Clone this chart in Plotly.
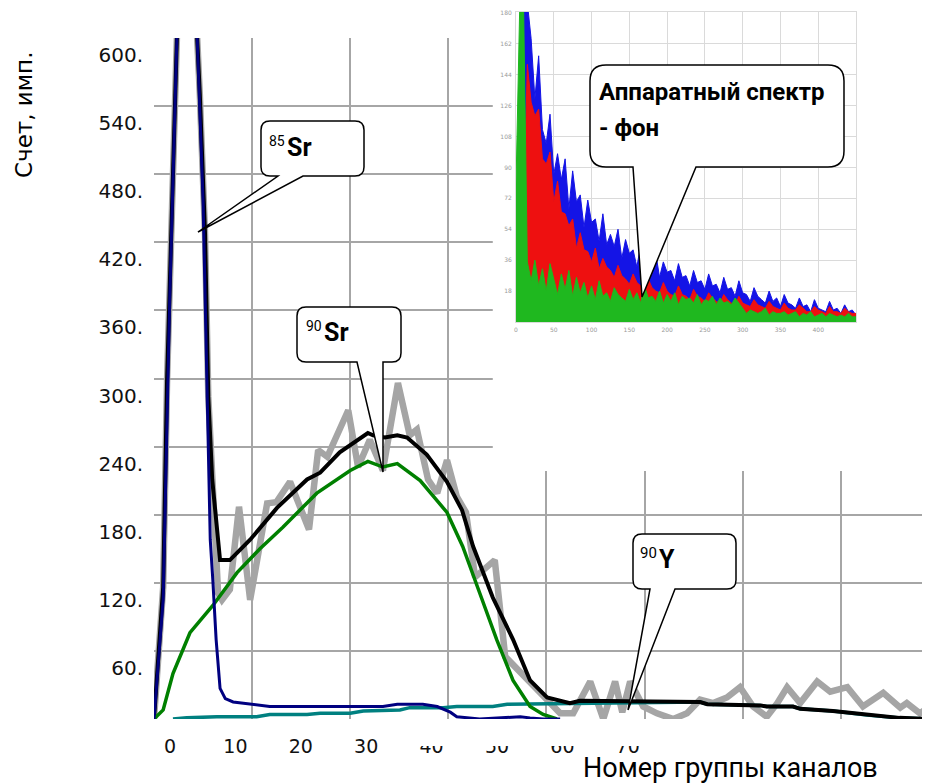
import plotly.graph_objects as go

# The page body adds an 8px offset, so the figure is 8px smaller than the window
W, H = 922, 776
OFF = 8

# ---------------- main chart data (channel group -> counts) ----------------
gray_x = [0, 1.4, 2.0, 3.5, 5.0, 6.6, 7.0, 7.8, 8.3, 8.9, 9.8, 10.4, 11.6, 13.0, 14.7,
          17.3, 18.7, 20.8, 23.7, 25.1, 26.5, 29.7, 31.2, 33.0, 35.0, 37.3, 39.1, 40.2,
          41.9, 43.3, 44.8, 46.3, 47.7, 49.1, 52.1, 53.7, 56.0, 58.0, 60.1, 62.1, 64.1,
          66.7, 68.7, 70.5, 71.6, 72.8, 74.8, 76.9, 79.4, 81.5, 83.5, 85.5, 87.6, 89.6,
          91.6, 93.7, 95.3, 96.8, 98.8, 101.4, 103.4, 106.0, 108.4, 111.5, 114.1, 115.1,
          117.1, 118.7]
gray_y = [0, 116, 299, 600, 700, 600, 551, 428, 284, 211, 111, 105, 114, 187, 105,
          190, 191, 209, 167, 237, 231, 272, 222, 246, 219, 296, 250, 255,
          211, 199, 228, 196, 182, 125, 140, 55, 41, 28, 17, 5, 5,
          33, 0, 33, 6, 33, 11, 5, 0, 5, 17, 14, 19, 28,
          11, 2, 14, 28, 14, 33, 24, 28, 11, 23, 10, 14,
          5, 11]

black_x = [0, 1.4, 2.0, 3.5, 5.0, 6.6, 7.0, 7.8, 8.3, 8.9, 10.1, 11.6, 14.7, 18.8, 23.4,
           25.4, 28.4, 32.7, 33.5, 35.3, 37.2, 38.7, 41.7, 44.8, 47.1, 48.8, 51.8, 54.9,
           57.5, 60.1, 63.6, 65.1, 83.5, 84.6, 92.7, 93.7, 97.7, 98.8, 103.8, 109.0,
           114.0, 118.7]
black_y = [0, 116, 299, 600, 700, 600, 551, 428, 284, 211, 140, 140, 158, 186, 211,
           217, 235, 252, 250, 248, 250, 248, 233, 209, 184, 152, 107, 70,
           34, 19, 14, 16, 15, 13, 12, 11, 11, 9, 7, 3.5,
           1, 0]

sr85_x = [0, 1.4, 2.4, 3.5, 5.0, 6.6, 7.5, 8.1, 8.6, 9.0, 9.5, 10.1, 10.9, 12.1, 14.7,
          17.7, 35.0, 37.2, 41.1, 43.3, 45.3, 46.3, 49.8, 56.0, 57.5, 59.5, 62.1]
sr85_y = [0, 105, 369, 600, 690, 600, 457, 299, 158, 122, 70, 27, 18, 15, 13,
          11, 11, 13, 13, 11, 6, 2, 0, 2, 1, 0, 0]

sr90_x = [0, 1.4, 2.9, 5.5, 9.0, 12.7, 16.2, 19.7, 24.9, 30.0, 32.7, 35.0, 37.2, 40.7,
          44.8, 47.2, 49.8, 52.4, 54.9, 57.5, 59.5, 61.6]
sr90_y = [0, 8, 40, 76, 100, 129, 150, 169, 199, 219, 227, 222, 225, 210,
          182, 152, 111, 70, 34, 11, 4, 0]

y90_x = [2.9, 5.0, 9.6, 15.7, 17.7, 23.4, 25.4, 30.0, 32.0, 37.6, 39.1, 44.2, 46.3, 51.8,
         54.0, 65.1, 83.5, 84.6, 92.7, 93.7, 97.7, 98.8, 103.8, 109.0, 114.0, 118.7]
y90_y = [0, 1, 2, 2, 4, 4, 5, 5, 7, 8, 10, 10, 11, 11,
         13, 14, 15, 13, 12, 11, 11, 9, 7, 3.5, 1, 0]

x_tick_vals = [0, 10, 20, 30, 40, 50, 60, 70]
x_tick_text = ["0", "10", "20", "30", "40", "50", "60", "70"]
x_grid_vals = [0, 15, 30, 45, 60, 75, 90, 105]
y_tick_vals = [60, 120, 180, 240, 300, 360, 420, 480, 540, 600]
y_tick_text = ["60.", "120.", "180.", "240.", "300.", "360.", "420.", "480.", "540.", "600."]

# ---------------- inset: instrument (background) spectrum ----------------
inset_x = list(range(0, 451, 5))
inset_blue = [60, 125, 186, 186, 165, 130, 155, 112, 104, 121,
              86, 98, 83, 95, 66, 88, 70, 74, 55, 71,
              58, 60, 47, 63, 45, 51, 44, 54, 37, 48,
              40, 42, 32, 45, 34, 36, 31, 40, 26, 35,
              29, 30, 24, 34, 26, 27, 21, 30, 23, 24,
              19, 28, 21, 22, 17, 26, 19, 20, 15, 24,
              17, 16, 12, 20, 15, 13, 11, 18, 12, 14,
              9, 16, 11, 10, 8, 14, 9, 10, 6, 13,
              8, 7, 6, 12, 7, 8, 5, 10, 6, 7,
              4]
inset_red = [0, 0, 60, 150, 128, 120, 124, 95, 92, 99,
             70, 82, 64, 63, 56, 60, 43, 52, 42, 41,
             35, 43, 31, 37, 32, 30, 26, 33, 27, 25,
             22, 28, 23, 21, 19, 25, 20, 18, 17, 23,
             18, 16, 15, 21, 16, 15, 13, 19, 15, 14,
             12, 17, 14, 12, 11, 16, 13, 11, 10, 15,
             11, 10, 9, 13, 10, 9, 8, 12, 9, 8,
             7, 11, 8, 7, 7, 10, 8, 6, 6, 9,
             7, 6, 5, 9, 6, 6, 5, 8, 6, 5,
             5]
inset_green = [80, 185, 185, 35, 24, 36, 21, 31, 18, 34,
               25, 16, 28, 19, 30, 15, 26, 17, 23, 14,
               21, 13, 24, 15, 17, 12, 20, 16, 14, 12,
               19, 13, 17, 11, 21, 14, 15, 12, 18, 11,
               16, 12, 17, 10, 15, 13, 14, 11, 16, 10,
               13, 12, 15, 10, 14, 11, 12, 10, 14, 11,
               8, 5, 7, 6, 5, 6, 8, 4, 6, 5,
               5, 6, 4, 5, 6, 3, 5, 4, 6, 3,
               4, 5, 3, 5, 4, 3, 4, 3, 5, 3,
               3]
inset_x_ticks = [0, 50, 100, 150, 200, 250, 300, 350, 400]
inset_y_ticks = [18, 36, 54, 72, 90, 108, 126, 144, 162, 180]


def px(x):
    """window pixel x -> paper fraction"""
    return (x - OFF) / W


def py(y):
    """window pixel y -> paper fraction"""
    return 1 - (y - OFF) / H


fig = go.Figure()

main_series = [
    (gray_x, gray_y, "#a5a5a5", 6.5),
    (y90_x, y90_y, "#008080", 3.5),
    (black_x, black_y, "#000000", 4),
    (sr90_x, sr90_y, "#008000", 3.5),
    (sr85_x, sr85_y, "#000080", 3),
]
for xs, ys, col, w in main_series:
    fig.add_trace(go.Scatter(x=xs, y=ys, mode="lines", line=dict(color=col, width=w),
                             hoverinfo="skip", xaxis="x", yaxis="y"))

for ys, col in [(inset_blue, "#1414e6"), (inset_red, "#ee1010"), (inset_green, "#1fb81f")]:
    fig.add_trace(go.Scatter(x=inset_x, y=ys, mode="lines", line=dict(color=col, width=1),
                             fill="tozeroy", fillcolor=col, hoverinfo="skip",
                             xaxis="x2", yaxis="y2"))

grid_col = "#a6a6a6"
small_font = dict(family="DejaVu Sans", size=6, color="#9a9a9a")

fig.update_layout(
    width=W, height=H, margin=dict(l=0, r=0, t=0, b=0, autoexpand=False),
    paper_bgcolor="white", plot_bgcolor="white", showlegend=False,
    xaxis=dict(domain=[px(154), 1], range=[0, 118.65], anchor="y", automargin=False,
               tickmode="array", tickvals=x_tick_vals, ticktext=x_tick_text,
               showgrid=False, zeroline=False, showline=False, ticks="",
               ticklabelshift=16, ticklabelstandoff=14,
               tickfont=dict(family="DejaVu Sans", size=19, color="#111111"),
               minor=dict(tickmode="array", tickvals=x_grid_vals, showgrid=True,
                          gridcolor=grid_col, gridwidth=2, ticks="")),
    yaxis=dict(domain=[py(719), py(38)], range=[0, 600], anchor="x", automargin=False,
               tickmode="array", tickvals=y_tick_vals, ticktext=y_tick_text,
               showgrid=True, gridcolor=grid_col, gridwidth=2, zeroline=False,
               showline=False, ticks="", ticklabelshift=17, ticklabelstandoff=10,
               tickfont=dict(family="DejaVu Sans", size=20, color="#111111")),
    xaxis2=dict(domain=[px(516), px(856)], anchor="y2", range=[0, 450], automargin=False,
                tickmode="array", tickvals=inset_x_ticks,
                showgrid=True, gridcolor="#dadada", gridwidth=1, zeroline=False,
                showline=True, linecolor="#dadada", mirror=True, ticks="",
                ticklabelstandoff=2, tickfont=small_font),
    yaxis2=dict(domain=[py(322), py(12)], anchor="x2", range=[0, 180.5], automargin=False,
                tickmode="array", tickvals=inset_y_ticks,
                showgrid=True, gridcolor="#dadada", gridwidth=1, zeroline=False,
                showline=True, linecolor="#dadada", mirror=True, ticks="",
                ticklabelstandoff=2, tickfont=small_font),
)


def bubble(x0, y0, x1, y1, r, b1, b2, tx, ty):
    def p(x, y):
        return f"{px(x):.5f},{py(y):.5f}"
    d = (f"M{p(x0 + r, y0)} L{p(x1 - r, y0)} Q{p(x1, y0)} {p(x1, y0 + r)} "
         f"L{p(x1, y1 - r)} Q{p(x1, y1)} {p(x1 - r, y1)} L{p(b2, y1)} L{p(tx, ty)} "
         f"L{p(b1, y1)} L{p(x0 + r, y1)} Q{p(x0, y1)} {p(x0, y1 - r)} "
         f"L{p(x0, y0 + r)} Q{p(x0, y0)} {p(x0 + r, y0)} Z")
    return dict(type="path", path=d, xref="paper", yref="paper", layer="above",
                fillcolor="white", line=dict(color="black", width=1.5))


shapes = [
    # white area behind the inset (covers main grid)
    dict(type="rect", xref="x", yref="y", x0=51.8, x1=130, y0=218.5, y1=700,
         fillcolor="white", line=dict(width=0), layer="between"),
    # cropped tops of the right-hand x tick labels
    dict(type="rect", xref="paper", yref="paper", x0=px(405), x1=1.0, y0=py(746), y1=py(722),
         fillcolor="white", line=dict(width=0), layer="above"),
    bubble(261, 121, 364, 176, 9, 278, 303, 198, 232),
    bubble(297, 307, 401, 362, 9, 357, 383, 383, 472),
    bubble(633, 534, 736, 589, 9, 650, 675, 628, 710),
    bubble(590, 65, 844, 167, 16, 633, 696, 642, 297),
]
fig.update_layout(shapes=shapes)


def ann(text, x, y, size, bold=False, xanchor="left", angle=0, family="Roboto"):
    t = f"<b>{text}</b>" if bold else text
    return dict(text=t, x=px(x), y=py(y), xref="paper", yref="paper", showarrow=False,
                xanchor=xanchor, yanchor="middle", textangle=angle,
                font=dict(family=family, size=size, color="black"))


annotations = [
    ann("85", 267, 141, 14),
    ann("Sr", 285, 147, 25, bold=True),
    ann("90", 304, 326, 14),
    ann("Sr", 322, 332, 25, bold=True),
    ann("90", 638, 553, 15),
    ann("Y", 657, 559, 25, bold=True),
    ann("Аппаратный спектр", 597, 92, 24, bold=True),
    ann("- фон", 597, 128, 24, bold=True),
    ann("Номер группы каналов", 730, 768, 27, xanchor="center"),
    ann("Счет, имп.", 24, 115, 23, xanchor="center", angle=-90, family="DejaVu Sans"),
]
fig.update_layout(annotations=annotations)

fig.write_html("out.html")
